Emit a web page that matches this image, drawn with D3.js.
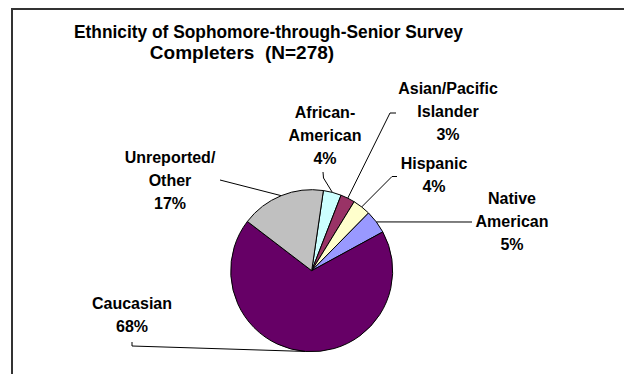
<!DOCTYPE html>
<html>
<head>
<meta charset="utf-8">
<script src="https://cdn.jsdelivr.net/npm/d3@7"></script>
<style>
  html, body { margin: 0; padding: 0; background: #fff; }
  svg { display: block; }
  text { font-family: "Liberation Sans", Arial, sans-serif; font-weight: bold; fill: #000; white-space: pre; }
</style>
</head>
<body>
<svg id="chart" width="624" height="374"></svg>
<script>
// Survey completers by ethnicity (counts, N = 278), in slice order clockwise
const categories = ["African-American", "Asian/Pacific Islander", "Hispanic", "Native American", "Caucasian", "Unreported/ Other"];
const counts = [10, 8, 10, 13, 190, 47];
const labelLines = [
  ["African-", "American"],
  ["Asian/Pacific", "Islander"],
  ["Hispanic"],
  ["Native", "American"],
  ["Caucasian"],
  ["Unreported/", "Other"]
];
const sliceColors = ["#CCFFFF", "#993366", "#FFFFCC", "#9999FF", "#660066", "#C0C0C0"];
const titleLines = ["Ethnicity of Sophomore-through-Senior Survey", "Completers  (N=278)"];

const total = d3.sum(counts);

const svg = d3.select("#chart");
const W = 624, H = 374;

// chart frame (top and left edges)
svg.append("path")
  .attr("d", `M12,${H} L12,9 L${W},9`)
  .attr("fill", "none")
  .attr("stroke", "#333")
  .attr("stroke-width", 2);

// title, two lines
const titleG = svg.append("g").style("font-size", "19px");
titleG.append("text")
  .attr("x", 74).attr("y", 38)
  .attr("textLength", 389)
  .attr("lengthAdjust", "spacingAndGlyphs")
  .text(titleLines[0]);
titleG.append("text")
  .attr("x", 242).attr("y", 59)
  .attr("text-anchor", "middle")
  .attr("xml:space", "preserve")
  .text(titleLines[1]);

// pie
const cx = 311.7, cy = 270.7, R = 81;
const start = 8.3 * Math.PI / 180;
const pie = d3.pie().sort(null).value(d => d).startAngle(start).endAngle(start + 2 * Math.PI);
const arcs = pie(counts);
const arc = d3.arc().innerRadius(0).outerRadius(R);
const edgeArc = d3.arc().innerRadius(R).outerRadius(R);

const g = svg.append("g").attr("transform", `translate(${cx},${cy})`);
g.selectAll("path.slice").data(arcs).join("path")
  .attr("class", "slice")
  .attr("d", arc)
  .attr("fill", (d, i) => sliceColors[i])
  .attr("stroke", "#000")
  .attr("stroke-width", 1);

// label placement: text centre x, first-line baseline, and the bend of each leader line
const labelLayout = [
  {x: 325, y: 118, elbow: [[323, 172], [323.5, 178]]},
  {x: 448, y: 94,  elbow: [[396, 113], [390, 113]]},
  {x: 434, y: 169, elbow: [[397, 176.5], [392, 176.5]]},
  {x: 512, y: 204, elbow: [[472, 222]]},
  {x: 132, y: 309, elbow: [[132, 342], [132, 346]]},
  {x: 170, y: 163, elbow: [[220, 180]]}
];
const lineGap = 23;

const labels = svg.append("g");
arcs.forEach((a, i) => {
  const L = labelLayout[i];
  const pct = Math.round(a.value / total * 100) + "%";
  const lines = labelLines[i].concat([pct]);
  const t = labels.append("text")
    .attr("text-anchor", "middle")
    .style("font-size", "16px");
  lines.forEach((s, j) => {
    t.append("tspan").attr("x", L.x).attr("y", L.y + j * lineGap).text(s);
  });
  // leader line to the middle of the slice's outer edge
  const c = edgeArc.centroid(a);
  const pts = L.elbow.concat([[cx + c[0], cy + c[1]]]);
  labels.append("path")
    .attr("d", d3.line()(pts))
    .attr("fill", "none")
    .attr("stroke", "#000")
    .attr("stroke-width", 1);
});
</script>
</body>
</html>
